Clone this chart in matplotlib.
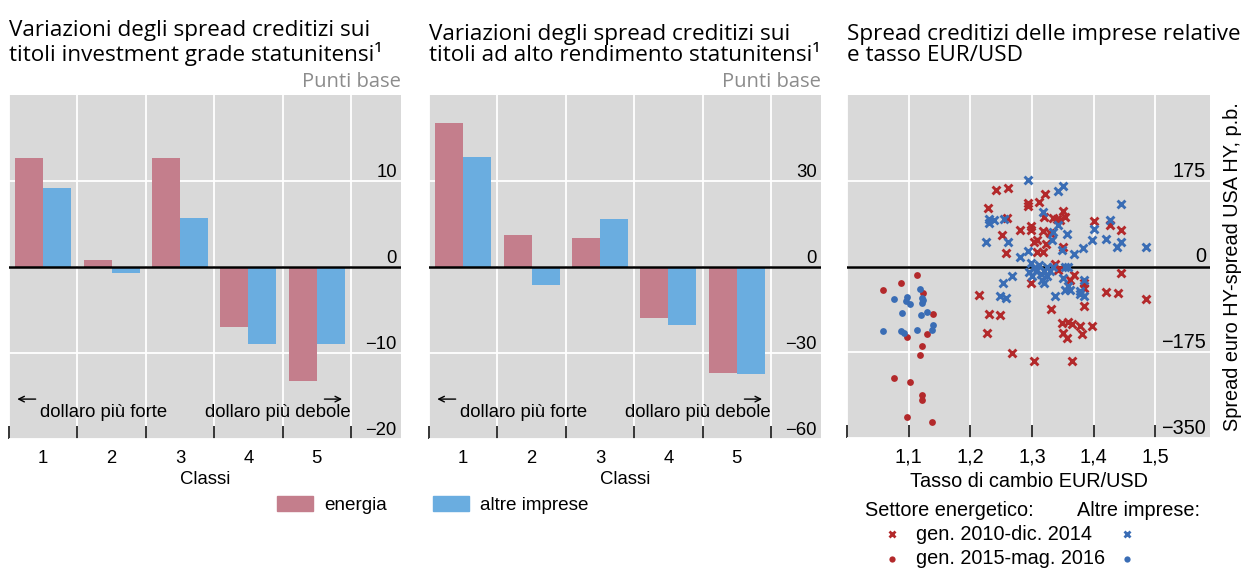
import matplotlib
matplotlib.use("Agg")
import matplotlib.pyplot as plt
from matplotlib.patches import Patch
from matplotlib.lines import Line2D
import numpy as np

# ---------------- data ----------------
classes = [1, 2, 3, 4, 5]
ig_energia = [12.7, 0.8, 12.7, -7.0, -13.2]
ig_altre = [9.2, -0.7, 5.7, -8.9, -8.9]
hy_energia = [50.3, 11.0, 10.0, -17.8, -37.0]
hy_altre = [38.5, -6.4, 16.6, -20.3, -37.3]

# energy sector, Jan 2010 - Dec 2014 (crosses)
en_x_10_14 = [1.241, 1.261, 1.228, 1.259, 1.252, 1.258, 1.281, 1.293, 1.293, 1.312,
              1.321, 1.298, 1.298, 1.304, 1.308, 1.318, 1.329, 1.323, 1.308, 1.318,
              1.335, 1.341, 1.350, 1.346, 1.354, 1.400, 1.426, 1.444, 1.350, 1.338,
              1.444, 1.214, 1.231, 1.248, 1.227, 1.268, 1.303, 1.299, 1.331, 1.421,
              1.439, 1.485, 1.385, 1.349, 1.359, 1.365, 1.378, 1.397, 1.351, 1.357,
              1.381, 1.365, 1.384, 1.384, 1.362, 1.368, 1.343, 1.320]
en_y_10_14 = [157, 160, 120, 99, 65, 27, 75, 130, 123, 131,
              148, 82, 75, 50, 54, 73, 69, 46, 30, 30,
              100, 96, 114, 94, 102, 93, 84, 75, 39, 5,
              -13, -58, -96, -98, -135, -177, -193, -34, -87, -52,
              -54, -67, -81, -116, -114, -118, -121, -122, -135, -146,
              -138, -193, -44, -34, -27, -17, -7, 102]
# energy sector, Jan 2015 - May 2016 (dots)
en_x_15_16 = [1.114, 1.088, 1.058, 1.123, 1.140, 1.130, 1.097, 1.122, 1.119, 1.076,
              1.102, 1.121, 1.121, 1.097, 1.138]
en_y_15_16 = [-18, -34, -47, -55, -97, -137, -143, -163, -181, -228,
              -236, -262, -272, -308, -317]
# other firms, Jan 2010 - Dec 2014 (crosses)
ot_x_10_14 = [1.294, 1.342, 1.350, 1.444, 1.230, 1.239, 1.231, 1.255, 1.225, 1.261,
              1.280, 1.293, 1.318, 1.343, 1.335, 1.332, 1.357, 1.400, 1.426, 1.397,
              1.421, 1.444, 1.438, 1.485, 1.383, 1.369, 1.349, 1.268, 1.253, 1.249,
              1.258, 1.338, 1.319, 1.351, 1.359, 1.362, 1.354, 1.384, 1.378, 1.384,
              1.359, 1.353, 1.298, 1.303, 1.296, 1.307, 1.314, 1.320, 1.325, 1.330,
              1.300, 1.316, 1.335, 1.312, 1.324, 1.378]
ot_y_10_14 = [176, 155, 165, 128, 96, 94, 88, 96, 51, 50,
              20, 32, 111, 84, 71, 54, 67, 77, 94, 55,
              57, 50, 40, 39, 37, 26, 34, -20, -34, -61,
              -64, -61, -34, -24, -40, -47, -47, -27, -57, -61,
              0, -1, 7, -3, -12, -10, -15, -10, 0, -10,
              -20, -27, -1, 3, -20, -50]
# other firms, Jan 2015 - May 2016 (dots)
ot_x_15_16 = [1.118, 1.076, 1.097, 1.096, 1.102, 1.122, 1.124, 1.121, 1.089, 1.130,
              1.120, 1.140, 1.138, 1.058, 1.088, 1.093, 1.114]
ot_y_15_16 = [-46, -67, -62, -71, -77, -64, -69, -74, -94, -93,
              -98, -120, -130, -132, -131, -135, -129]

bar_labels = ["energia", "altre imprese"]
scatter_labels = ["gen. 2010-dic. 2014", "gen. 2015-mag. 2016"]

# ---------------- style ----------------
W, H = 1247, 571
BG = "#d9d9d9"
C_EN = "#c47e8c"
C_OT = "#6aade0"
C_RED = "#b3292b"
C_BLUE = "#3a6db5"
TFONT = "Open Sans"
LFONT = "Liberation Sans"
FS = 13.3      # bar panels
FS3 = 14.3     # scatter panel

plt.rcParams["font.family"] = LFONT
plt.rcParams["axes.unicode_minus"] = True

fig = plt.figure(figsize=(W / 100, H / 100), dpi=100)


def px_axes(l, r, t, b):
    return fig.add_axes([l / W, 1 - b / H, (r - l) / W, (b - t) / H])


def style_axes(ax, fs):
    ax.set_facecolor(BG)
    for s in ax.spines.values():
        s.set_visible(False)
    ax.grid(True, color="white", lw=1.3)
    ax.set_axisbelow(True)
    ax.yaxis.tick_right()
    ax.tick_params(axis="y", length=0, pad=-3, labelsize=fs)
    for lab in ax.get_yticklabels():
        lab.set_ha("right")
        lab.set_va("bottom")


def bar_panel(ax, en, ot, lim, step):
    x = np.array(classes)
    w = 0.41
    ax.bar(x - w / 2, en, width=w, color=C_EN, zorder=2)
    ax.bar(x + w / 2, ot, width=w, color=C_OT, zorder=2)
    ax.axhline(0, color="black", lw=1.8, zorder=3)
    ax.set_xlim(0.5, 6.23)
    ax.set_ylim(-lim, lim)
    ticks = [-lim, -step, 0, step]
    ax.set_yticks(ticks)
    ax.set_yticklabels([f"{t:d}".replace("-", "\u2212") for t in ticks])
    ax.set_xticks([0.5, 1.5, 2.5, 3.5, 4.5, 5.5])
    ax.set_xticklabels([])
    ax.set_xticks(classes, minor=True)
    ax.set_xticklabels([str(c) for c in classes], minor=True)
    ax.tick_params(axis="x", which="major", direction="in", length=9.5, width=1.1,
                   color="black")
    ax.tick_params(axis="x", which="minor", length=0, pad=8, labelsize=FS)
    ax.grid(True, which="major", color="white", lw=1.3)
    ax.set_xlabel("Classi", fontsize=FS, labelpad=3)
    style_axes(ax, FS)
    # direction annotations
    ax.annotate("", xy=(0.58, 0.116), xytext=(0.93, 0.116),
                xycoords=("data", "axes fraction"),
                arrowprops=dict(arrowstyle="->", lw=1.0, color="black"))
    ax.annotate("", xy=(5.41, 0.116), xytext=(5.07, 0.116),
                xycoords=("data", "axes fraction"),
                arrowprops=dict(arrowstyle="->", lw=1.0, color="black"))
    ax.text(0.95, 0.076, "dollaro più forte", transform=ax.get_xaxis_transform(),
            ha="left", va="center", fontsize=FS)
    ax.text(5.5, 0.076, "dollaro più debole", transform=ax.get_xaxis_transform(),
            ha="right", va="center", fontsize=FS)


ax1 = px_axes(9, 401, 95, 439)
bar_panel(ax1, ig_energia, ig_altre, 20, 10)
ax2 = px_axes(429, 821, 95, 439)
bar_panel(ax2, hy_energia, hy_altre, 60, 30)

# ---------------- scatter ----------------
ax3 = px_axes(847, 1210, 95, 438)
ax3.scatter(en_x_10_14, en_y_10_14, marker="x", s=32, linewidths=2.1, color=C_RED, zorder=3)
ax3.scatter(ot_x_10_14, ot_y_10_14, marker="x", s=32, linewidths=2.1, color=C_BLUE, zorder=3)
ax3.scatter(en_x_15_16, en_y_15_16, marker="o", s=24, linewidths=0, color=C_RED, zorder=3)
ax3.scatter(ot_x_15_16, ot_y_15_16, marker="o", s=24, linewidths=0, color=C_BLUE, zorder=3)
ax3.axhline(0, color="black", lw=1.8, zorder=2)
ax3.set_xlim(1.0, 1.589)
ax3.set_ylim(-350, 350)
xt = [1.0, 1.1, 1.2, 1.3, 1.4, 1.5]
ax3.set_xticks(xt)
ax3.set_xticklabels([""] + [f"{v:.1f}".replace(".", ",") for v in xt[1:]])
yt = [-350, -175, 0, 175]
ax3.set_yticks(yt)
ax3.set_yticklabels([f"{t:d}".replace("-", "\u2212") for t in yt])
ax3.tick_params(axis="x", direction="in", length=9.5, width=1.1, pad=7, labelsize=FS3)
style_axes(ax3, FS3)
ax3.set_xlabel("Tasso di cambio EUR/USD", fontsize=FS3, labelpad=4)
ax3.yaxis.set_label_position("right")
ax3.set_ylabel("Spread euro HY-spread USA HY, p.b.", fontsize=FS3, rotation=90,
               labelpad=9)

# ---------------- titles ----------------
tkw = dict(fontsize=16.2, family=TFONT, va="baseline", ha="left", linespacing=1.03)
fig.text(9 / W, 1 - 61 / H,
         "Variazioni degli spread creditizi sui\ntitoli investment grade statunitensi\u00b9",
         **tkw)
fig.text(429 / W, 1 - 61 / H,
         "Variazioni degli spread creditizi sui\ntitoli ad alto rendimento statunitensi\u00b9",
         **tkw)
fig.text(847 / W, 1 - 61 / H,
         "Spread creditizi delle imprese relative\ne tasso EUR/USD", **tkw)
for r in (401, 821):
    fig.text(r / W, 1 - 82 / H, "Punti base", family=TFONT, fontsize=14.5,
             color="#8c8c8c", ha="right", va="center")

# ---------------- legends ----------------
handles = [Patch(color=C_EN), Patch(color=C_OT)]
fig.legend(handles, bar_labels, loc="center", bbox_to_anchor=(433 / W, 1 - 505 / H),
           ncol=2, frameon=False, fontsize=13.6, handlelength=1.9, handleheight=0.85,
           handletextpad=0.6, columnspacing=2.4)

fig.text(865 / W, 1 - 510 / H, "Settore energetico:", fontsize=FS3, va="center")
fig.text(1077 / W, 1 - 510 / H, "Altre imprese:", fontsize=FS3, va="center")
for yy, mk, lab in ((534, "x", scatter_labels[0]), (559, "o", scatter_labels[1])):
    for xx, col in ((892, C_RED), (1127, C_BLUE)):
        fig.add_artist(Line2D([xx / W], [1 - yy / H], marker=mk, color=col,
                              markersize=5 if mk == "x" else 4.5,
                              markeredgewidth=2.0 if mk == "x" else 0,
                              linestyle="none", transform=fig.transFigure))
    fig.text(916 / W, 1 - yy / H, lab, fontsize=FS3, va="center")

fig.savefig("out.png", dpi=100)
